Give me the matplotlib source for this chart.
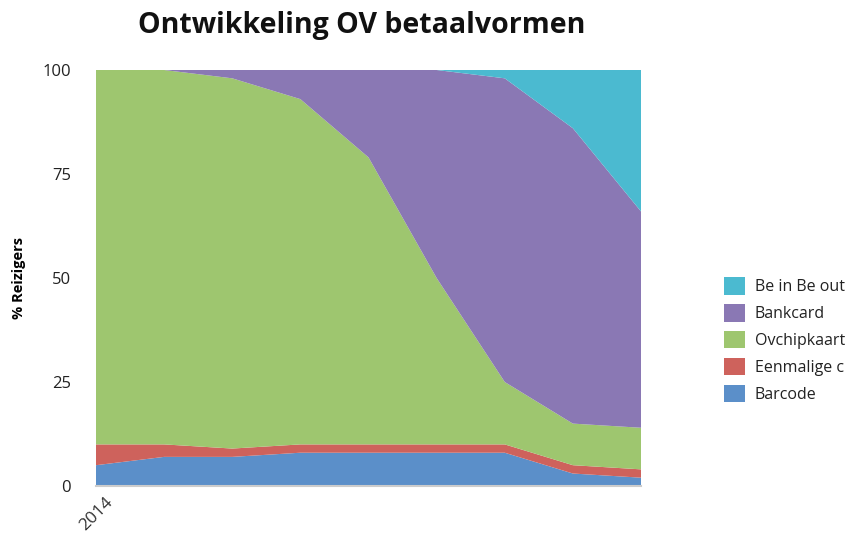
import matplotlib
matplotlib.use("Agg")
import matplotlib.pyplot as plt
from matplotlib.patches import Patch

years = [2014, 2015, 2016, 2017, 2018, 2019, 2020, 2021, 2022]
x_labels = ["2014", "", "", "", "", "", "", "", ""]
series_names = ["Barcode", "Eenmalige c", "Ovchipkaart", "Bankcard", "Be in Be out"]
barcode = [5, 7, 7, 8, 8, 8, 8, 3, 2]
eenmalige = [5, 3, 2, 2, 2, 2, 2, 2, 2]
ovchipkaart = [90, 90, 89, 83, 69, 40, 15, 10, 10]
bankcard = [0, 0, 2, 7, 21, 50, 73, 71, 52]
be_in_be_out = [0, 0, 0, 0, 0, 0, 2, 14, 34]
colors = ["#5B8FC9", "#CE625C", "#9EC66F", "#8A78B4", "#4BBAD0"]
y_ticks = [0, 25, 50, 75, 100]

plt.rcParams['font.family'] = ['Open Sans', 'DejaVu Sans']

fig = plt.figure(figsize=(8.52, 5.38), dpi=100)
ax = fig.add_axes([96/852, 1 - 486/538, (641-96)/852, (486-70)/538])

xs = list(range(len(years)))
ax.stackplot(xs, barcode, eenmalige, ovchipkaart, bankcard, be_in_be_out,
             colors=colors, linewidth=0)
ax.set_xlim(0, len(years) - 1)
ax.set_ylim(0, 100)
ax.set_yticks(y_ticks)
ax.set_yticklabels([str(t) for t in y_ticks], fontsize=12, color="#222222")
ax.set_xticks(xs)
ax.set_xticklabels(x_labels, rotation=45, ha="center",
                   fontsize=12.5, color="#333333")
ax.tick_params(axis="both", length=0)
ax.tick_params(axis="y", pad=18)
ax.tick_params(axis="x", pad=6)
for side in ["top", "right", "left"]:
    ax.spines[side].set_visible(False)
ax.spines["bottom"].set_color("#CCCCCC")
ax.spines["bottom"].set_linewidth(1.5)

ax.set_ylabel("% Reizigers", fontsize=10.5, fontweight="bold", labelpad=12)

fig.text(362/852, 1 - 25/538, "Ontwikkeling OV betaalvormen", ha="center",
         va="center", fontsize=20.5, fontweight="bold", color="#111111")

handles = [Patch(facecolor=c, edgecolor="none") for c in colors]
leg = fig.legend(handles[::-1], series_names[::-1], loc="center left",
                 bbox_to_anchor=(710/852, 1 - 340/538), frameon=False,
                 fontsize=11.5, handlelength=1.3, handleheight=1.3,
                 labelspacing=0.55, handletextpad=0.6)
for t in leg.get_texts():
    t.set_color("#222222")

fig.savefig("out.png", dpi=100)
